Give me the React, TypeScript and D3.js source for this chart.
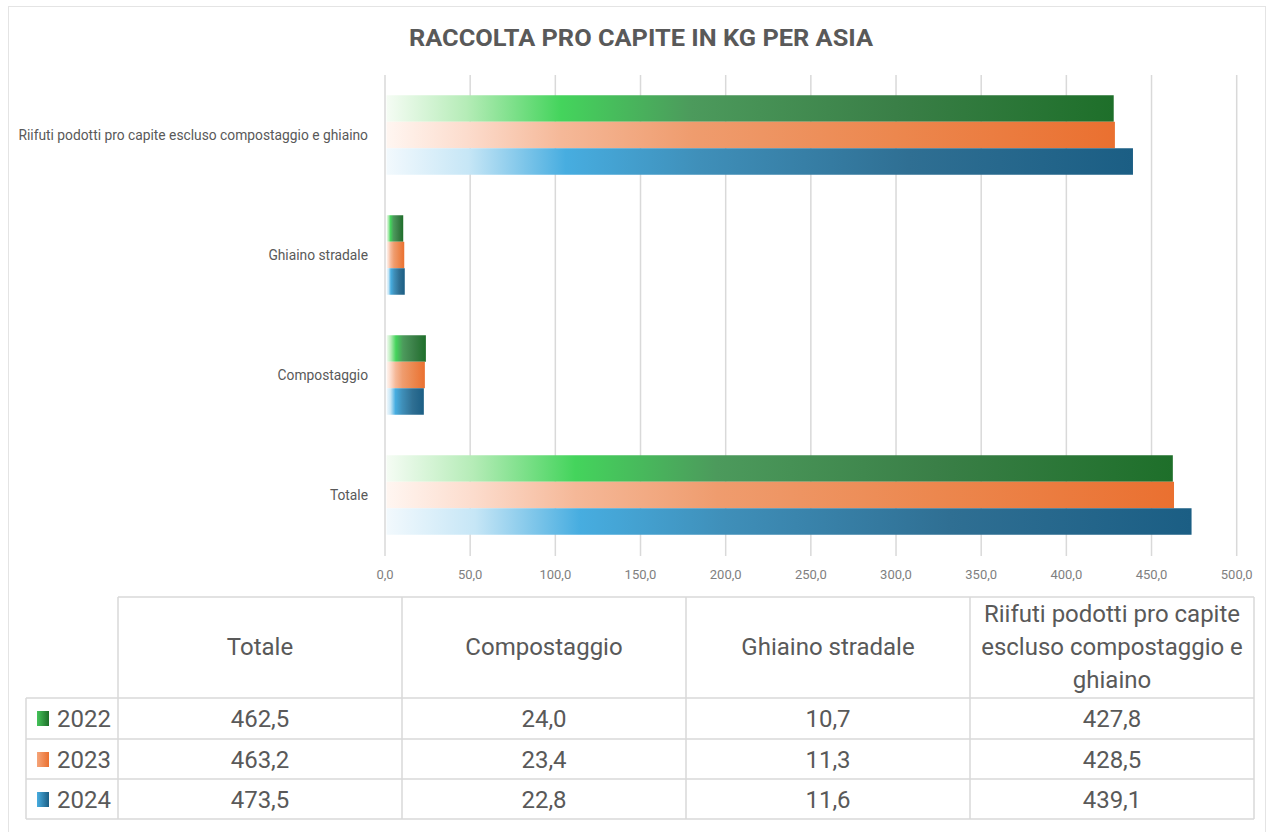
import { useRef, useEffect } from "react";
import * as d3 from "d3";

const categories = [
  "Totale",
  "Compostaggio",
  "Ghiaino stradale",
  "Riifuti podotti pro capite escluso compostaggio e ghiaino",
];
const years = ["2022", "2023", "2024"];
const values2022 = [462.5, 24.0, 10.7, 427.8];
const values2023 = [463.2, 23.4, 11.3, 428.5];
const values2024 = [473.5, 22.8, 11.6, 439.1];
const seriesValues = [values2022, values2023, values2024];
// header of the data table, last column wraps on three lines
const tableHeaders = [
  ["Totale"],
  ["Compostaggio"],
  ["Ghiaino stradale"],
  ["Riifuti podotti pro capite", "escluso compostaggio e", "ghiaino"],
];

const gradients = [
  [
    [0, "#f5fcf4"],
    [0.11, "#b5ecb7"],
    [0.24, "#44d45c"],
    [0.42, "#4c9a5c"],
    [0.7, "#3a7f47"],
    [1, "#1e6f2a"],
  ],
  [
    [0, "#fff6f1"],
    [0.11, "#fcdccd"],
    [0.24, "#f5b898"],
    [0.42, "#ef9c6e"],
    [0.7, "#ec874e"],
    [1, "#ea7030"],
  ],
  [
    [0, "#f2f9fd"],
    [0.11, "#c6e6f6"],
    [0.24, "#47ade0"],
    [0.42, "#3f8fb9"],
    [0.7, "#2f6f93"],
    [1, "#1b5e84"],
  ],
];
const markerColors = [
  ["#45c35a", "#1e6f2a"],
  ["#f5a57a", "#ea7030"],
  ["#48ade0", "#1b5e84"],
];

export default function App() {
  const svgRef = useRef<SVGSVGElement>(null);

  useEffect(() => {
    const width = 1271;
    const height = 832;
    const svg = d3.select(svgRef.current);
    svg.selectAll("*").remove();
    svg.attr("width", width).attr("height", height);

    const font = "Roboto, 'Open Sans', sans-serif";
    const textColor = "#595959";
    const gridColor = "#d9d9d9";
    const fmt = d3
      .formatLocale({ decimal: ",", thousands: ".", grouping: [3], currency: ["", ""] })
      .format(".1f");

    const defs = svg.append("defs");
    gradients.forEach((stops, i) => {
      const g = defs
        .append("linearGradient")
        .attr("id", `bar-grad-${i}`)
        .attr("x1", "0")
        .attr("x2", "1")
        .attr("y1", "0")
        .attr("y2", "0");
      stops.forEach(([o, c]) => g.append("stop").attr("offset", o).attr("stop-color", c));
    });
    markerColors.forEach(([a, b], i) => {
      const g = defs
        .append("linearGradient")
        .attr("id", `mark-grad-${i}`)
        .attr("x1", "0")
        .attr("x2", "1");
      g.append("stop").attr("offset", 0).attr("stop-color", a);
      g.append("stop").attr("offset", 1).attr("stop-color", b);
    });

    svg.append("rect").attr("width", width).attr("height", height).attr("fill", "#fff");
    svg
      .append("rect")
      .attr("x", 8.5)
      .attr("y", 6.5)
      .attr("width", 1257)
      .attr("height", 830)
      .attr("fill", "#fff")
      .attr("stroke", "#e4e4e4");

    // title
    svg
      .append("text")
      .attr("x", 641)
      .attr("y", 46)
      .attr("text-anchor", "middle")
      .attr("font-family", font)
      .attr("font-weight", 700)
      .attr("font-size", 24)
      .attr("fill", textColor)
      .attr("textLength", 464)
      .attr("lengthAdjust", "spacingAndGlyphs")
      .text("RACCOLTA PRO CAPITE IN KG PER ASIA");

    const x = d3.scaleLinear().domain([0, 500]).range([385, 1236.7]);
    const y = d3
      .scaleBand()
      .domain([...categories].reverse())
      .range([75, 555])
      .paddingInner(0.3375)
      .paddingOuter(0.16875);
    const ySub = d3.scaleBand().domain(years).range([0, y.bandwidth()]);

    // grid
    svg
      .append("g")
      .selectAll("line")
      .data(x.ticks(10))
      .join("line")
      .attr("x1", (d) => x(d))
      .attr("x2", (d) => x(d))
      .attr("y1", 75)
      .attr("y2", 556)
      .attr("stroke", gridColor)
      .attr("stroke-width", 1.5);

    svg
      .append("g")
      .selectAll("text")
      .data(x.ticks(10))
      .join("text")
      .attr("x", (d) => x(d))
      .attr("y", 579)
      .attr("text-anchor", "middle")
      .attr("font-family", font)
      .attr("font-size", 13)
      .attr("fill", "#7f7f7f")
      .text((d) => fmt(d));

    // category labels
    svg
      .append("g")
      .selectAll("text")
      .data(categories)
      .join("text")
      .attr("x", 368)
      .attr("y", (d) => y(d)! + y.bandwidth() / 2 + 4.5)
      .attr("text-anchor", "end")
      .attr("font-family", font)
      .attr("font-size", 13.8)
      .attr("fill", textColor)
      .text((d) => d);

    // bars
    years.forEach((yr, si) => {
      svg
        .append("g")
        .selectAll("rect")
        .data(seriesValues[si])
        .join("rect")
        .attr("x", x(0) + 1.5)
        .attr("y", (_, i) => y(categories[i])! + ySub(yr)!)
        .attr("width", (d) => x(d) - x(0) - 1.5)
        .attr("height", ySub.bandwidth())
        .attr("fill", `url(#bar-grad-${si})`);
    });

    // data table
    const colX = [118, 402, 686, 970, 1254];
    const legendX = 26;
    const headTop = 597;
    const rowY = [698, 739, 779, 819];
    const tbl = svg.append("g").attr("stroke", gridColor).attr("stroke-width", 1.5);
    tbl.append("line").attr("x1", colX[0]).attr("x2", colX[4]).attr("y1", headTop).attr("y2", headTop);
    rowY.forEach((ry) =>
      tbl.append("line").attr("x1", legendX).attr("x2", colX[4]).attr("y1", ry).attr("y2", ry)
    );
    colX.forEach((cx) =>
      tbl.append("line").attr("x1", cx).attr("x2", cx).attr("y1", headTop).attr("y2", rowY[3])
    );
    tbl.append("line").attr("x1", legendX).attr("x2", legendX).attr("y1", rowY[0]).attr("y2", rowY[3]);

    const tableText = svg
      .append("g")
      .attr("font-family", font)
      .attr("font-size", 24)
      .attr("fill", textColor);

    tableHeaders.forEach((lines, c) => {
      const cx = (colX[c] + colX[c + 1]) / 2;
      const first = 655 - ((lines.length - 1) * 33) / 2;
      lines.forEach((ln, li) =>
        tableText
          .append("text")
          .attr("x", cx)
          .attr("y", first + li * 33)
          .attr("text-anchor", "middle")
          .text(ln)
      );
    });

    years.forEach((yr, si) => {
      const top = rowY[si];
      svg
        .append("rect")
        .attr("x", 37)
        .attr("y", top + 13)
        .attr("width", 12)
        .attr("height", 15)
        .attr("fill", `url(#mark-grad-${si})`);
      tableText
        .append("text")
        .attr("x", 57)
        .attr("y", top + 29)
        .text(yr);
      seriesValues[si].forEach((v, c) => {
        tableText
          .append("text")
          .attr("x", (colX[c] + colX[c + 1]) / 2)
          .attr("y", top + 29)
          .attr("text-anchor", "middle")
          .text(fmt(v));
      });
    });
  }, []);

  return (
    <svg
      ref={svgRef}
      style={{ position: "absolute", left: 0, top: 0, display: "block" }}
    ></svg>
  );
}
